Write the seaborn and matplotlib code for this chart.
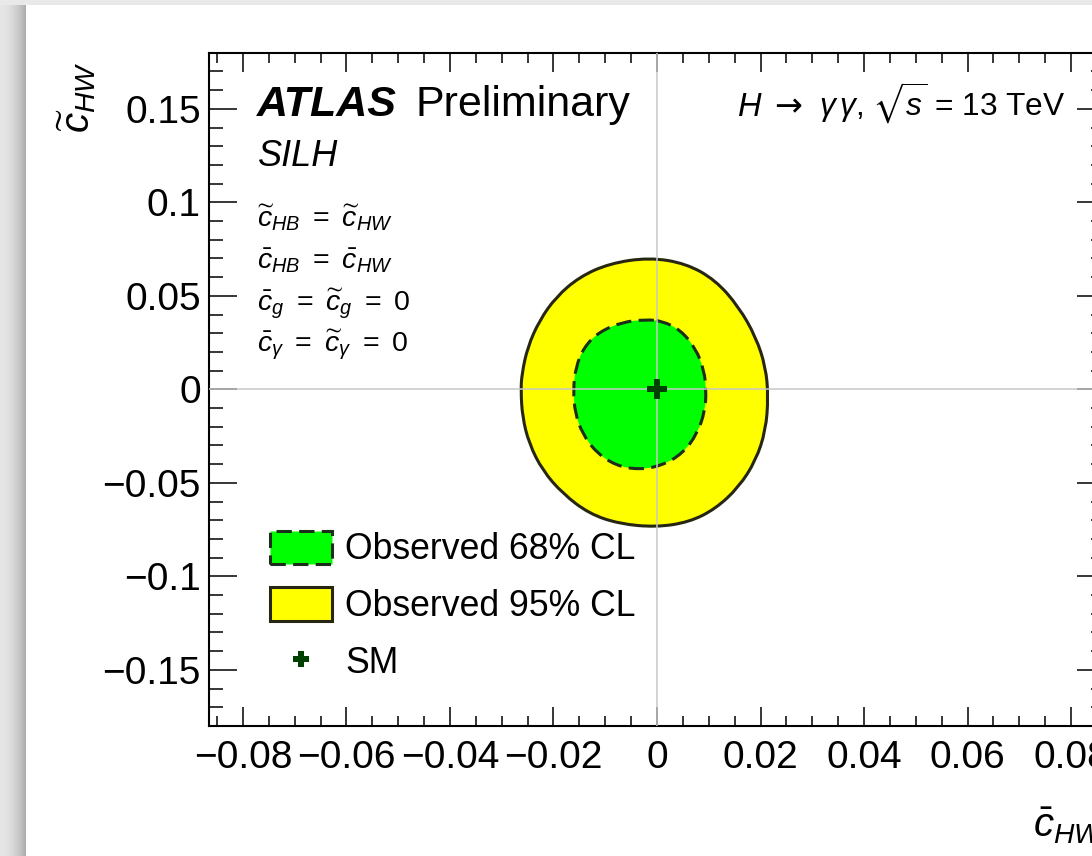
import numpy as np
import matplotlib
matplotlib.use('Agg')
import matplotlib.pyplot as plt
import seaborn as sns
from matplotlib.patches import Patch, PathPatch
from matplotlib.path import Path
from matplotlib.lines import Line2D
from matplotlib.ticker import MultipleLocator, FixedLocator, FuncFormatter

# ---------------- data ----------------
cl95_x = [-0.0015, -0.0092, -0.0150, -0.0195, -0.0227, -0.0250, -0.0261, -0.0263,
          -0.0260, -0.0247, -0.0221, -0.0182, -0.0131, -0.0073, -0.0002, 0.0062,
          0.0113, 0.0158, 0.0191, 0.0210, 0.0215, 0.0210, 0.0191, 0.0158, 0.0113, 0.0056]
cl95_y = [0.0705, 0.0673, 0.0601, 0.0494, 0.0369, 0.0226, 0.0084, -0.0005,
          -0.0148, -0.0291, -0.0434, -0.0558, -0.0665, -0.0719, -0.0737, -0.0710,
          -0.0639, -0.0523, -0.0380, -0.0219, -0.0041, 0.0119, 0.0280, 0.0441, 0.0584, 0.0673]

cl68_x = [-0.0022, -0.0067, -0.0112, -0.0141, -0.0157, -0.0162, -0.0158, -0.0144,
          -0.0118, -0.0080, -0.0035, 0.0010, 0.0049, 0.0078, 0.0093, 0.0095,
          0.0091, 0.0075, 0.0046, 0.0010]
cl68_y = [0.0373, 0.0360, 0.0307, 0.0226, 0.0119, -0.0005, -0.0130, -0.0237,
          -0.0336, -0.0407, -0.0430, -0.0407, -0.0344, -0.0237, -0.0112, -0.0005,
          0.0102, 0.0218, 0.0316, 0.0366]

sm_x = [0.0]
sm_y = [0.0]

x_major_ticks = [-0.08, -0.06, -0.04, -0.02, 0.0, 0.02, 0.04, 0.06, 0.08]
y_major_ticks = [-0.15, -0.10, -0.05, 0.0, 0.05, 0.10, 0.15]
x_limits = [-0.0865, 0.0865]
y_limits = [-0.18, 0.18]

legend_labels = ['Observed 68% CL', 'Observed 95% CL', 'SM']
info_lines = [r'$\widetilde{c}_{HB}\ =\ \widetilde{c}_{HW}$',
              r'$\bar{c}_{HB}\ =\ \bar{c}_{HW}$',
              r'$\bar{c}_{g}\ =\ \widetilde{c}_{g}\ =\ 0$',
              r'$\bar{c}_{\gamma}\ =\ \widetilde{c}_{\gamma}\ =\ 0$']

# ---------------- style ----------------
sns.set_theme(style='ticks')
plt.rcParams['font.family'] = ['Liberation Sans', 'DejaVu Sans']
plt.rcParams['mathtext.fontset'] = 'custom'
plt.rcParams['mathtext.rm'] = 'Liberation Sans'
plt.rcParams['mathtext.it'] = 'Liberation Sans:italic'
plt.rcParams['mathtext.bf'] = 'Liberation Sans:bold'
plt.rcParams['mathtext.sf'] = 'Liberation Sans'
plt.rcParams['mathtext.fallback'] = 'stixsans'
plt.rcParams['axes.unicode_minus'] = True
plt.rcParams['text.color'] = 'black'
plt.rcParams['axes.labelcolor'] = 'black'
plt.rcParams['xtick.color'] = 'black'
plt.rcParams['ytick.color'] = 'black'

W, H = 1092, 856
fig = plt.figure(figsize=(W / 100, H / 100), dpi=100)
fig.patch.set_facecolor('white')

# page shadow background
bg = fig.add_axes([0, 0, 1, 1], zorder=-10)
img = np.ones((H, W, 3))
strip = 26
t = np.arange(strip) / (strip - 1)
grad = 0.90 - 0.22 * t ** 2
img[:, :strip, :] = grad[None, :, None]
img[:5, :, :] = 0.915
bg.imshow(img, aspect='auto', extent=[0, 1, 0, 1], interpolation='bilinear')
bg.set_axis_off()

ax = fig.add_axes([209.3 / W, 1 - 726 / H, 895.4 / W, 673.3 / H])
ax.set_facecolor('white')


def closed_curve(xs, ys):
    """Smooth closed path through the read outline using quadratic Bezier segments."""
    P = np.column_stack([xs, ys])
    M = (P + np.roll(P, -1, axis=0)) / 2.0
    verts = [M[-1]]
    codes = [Path.MOVETO]
    for i in range(len(P)):
        verts += [P[i], M[i]]
        codes += [Path.CURVE3, Path.CURVE3]
    verts.append(M[-1])
    codes.append(Path.CLOSEPOLY)
    return Path(verts, codes)


dark = '#262612'
dark68 = '#1a2e1a'
ax.add_patch(PathPatch(closed_curve(cl95_x, cl95_y), facecolor='#ffff00',
                       edgecolor=dark, lw=2.2, zorder=1))
ax.add_patch(PathPatch(closed_curve(cl68_x, cl68_y), facecolor='#00ff00',
                       edgecolor=dark68, lw=2.2, linestyle=(0, (5, 2.4)), zorder=2))

ax.axhline(0, color='#c8c8c8', lw=1.1, zorder=3)
ax.axvline(0, color='#c8c8c8', lw=1.1, zorder=3)

sns.scatterplot(x=sm_x, y=sm_y, marker='P', s=210, color='#004000',
                linewidth=0, ax=ax, zorder=5, legend=False)

ax.set_xlim(*x_limits)
ax.set_ylim(*y_limits)


def fmt(v, pos):
    if abs(v) < 1e-9:
        return '0'
    return ('%g' % round(v, 4)).replace('-', '\u2212')


ax.xaxis.set_major_locator(FixedLocator(x_major_ticks))
ax.yaxis.set_major_locator(FixedLocator(y_major_ticks))
ax.xaxis.set_minor_locator(MultipleLocator(0.005))
ax.yaxis.set_minor_locator(MultipleLocator(0.01))
ax.xaxis.set_major_formatter(FuncFormatter(fmt))
ax.yaxis.set_major_formatter(FuncFormatter(fmt))

ax.tick_params(axis='x', which='major', direction='in', length=13.7, width=1.1,
               top=True, bottom=True, labelsize=28, pad=10)
ax.tick_params(axis='x', which='minor', direction='in', length=7.2, width=1.1,
               top=True, bottom=True)
ax.tick_params(axis='y', which='major', direction='in', length=20, width=1.1,
               left=True, right=True, labelsize=28, pad=6)
ax.tick_params(axis='y', which='minor', direction='in', length=10, width=1.1,
               left=True, right=True)
for sp in ax.spines.values():
    sp.set_linewidth(1.5)
    sp.set_color('black')
    sp.set_visible(True)

ax.set_xlabel(r'$\bar{c}_{HW}$', loc='right', fontsize=29)
ax.xaxis.set_label_coords(1.0, -0.118)
ax.set_ylabel(r'$\widetilde{c}_{HW}$', loc='top', fontsize=29)
ax.yaxis.set_label_coords(-0.124, 0.9866)

# texts
atlas = ax.text(0.0535, 0.906, 'ATLAS', transform=ax.transAxes, fontsize=31,
                fontweight='bold', fontstyle='italic', va='baseline', ha='left')
ax.annotate('Preliminary', xy=(1, 0), xycoords=atlas, xytext=(13, 0),
            textcoords='offset points', fontsize=31, va='bottom', ha='left')
ax.text(0.0544, 0.831, 'SILH', transform=ax.transAxes, fontsize=26,
        fontstyle='italic', va='baseline', ha='left')
for txt, yb in zip(info_lines, [0.7426, 0.6802, 0.6178, 0.5555]):
    ax.text(0.053, yb, txt, transform=ax.transAxes, fontsize=20.5,
            va='baseline', ha='left')

# process / energy label, built left to right on a common baseline
base_y = 0.906
t_h = ax.text(0.5893, base_y, r'$H$', transform=ax.transAxes, fontsize=23.5,
              va='baseline', ha='left')
ax.annotate('\u2192', xy=(1, base_y), xycoords=(t_h, ax.transAxes), xytext=(8, 0),
            textcoords='offset points', fontsize=24, family=['DejaVu Sans'],
            va='baseline', ha='left')
ax.annotate(r'$\gamma\,\gamma$, $\sqrt{s}$ = 13 TeV', xy=(1, base_y),
            xycoords=(t_h, ax.transAxes), xytext=(41, 0), textcoords='offset points',
            fontsize=22.8, va='baseline', ha='left')

handles = [Patch(facecolor='#00ff00', edgecolor=dark68, lw=2.2, linestyle=(0, (5, 2.4))),
           Patch(facecolor='#ffff00', edgecolor=dark, lw=2.2),
           Line2D([], [], marker='P', linestyle='none', color='#004000',
                  markersize=12, markeredgewidth=0)]
ax.legend(handles, legend_labels, loc='upper left', bbox_to_anchor=(0.0678, 0.290),
          frameon=False, fontsize=25.7, handlelength=1.75, handleheight=1.05,
          handletextpad=0.35, labelspacing=0.56, borderpad=0, borderaxespad=0)

fig.savefig('out.png', dpi=100)
